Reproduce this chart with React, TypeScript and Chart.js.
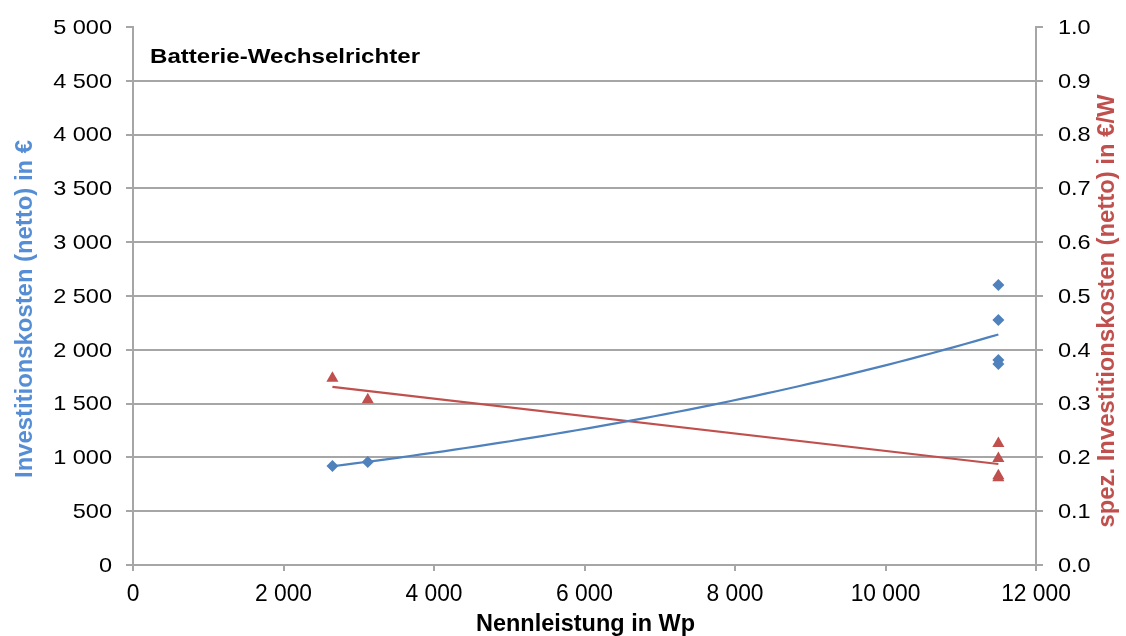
import React, { useEffect, useRef } from "react";
import { Chart, registerables } from "chart.js";

Chart.register(...registerables);

// Data
const nennleistungWp = [2650, 3120, 11500, 11500, 11500, 11500];
const investitionskostenEur = [920, 957, 2602, 2277, 1905, 1868];
const spezKostenEurProW = [0.347, 0.307, 0.226, 0.198, 0.166, 0.162];

const leftTicks = [0, 500, 1000, 1500, 2000, 2500, 3000, 3500, 4000, 4500, 5000];
const rightTicks = [0, 0.1, 0.2, 0.3, 0.4, 0.5, 0.6, 0.7, 0.8, 0.9, 1.0];
const xTicks = [0, 2000, 4000, 6000, 8000, 10000, 12000];

const chartTitle = "Batterie-Wechselrichter";
const xTitle = "Nennleistung in Wp";
const leftTitle = "Investitionskosten (netto) in €";
const rightTitle = "spez. Investitionskosten (netto) in €/W";

const BLUE = "#4F81BD";
const RED = "#C0504D";
const LEFT_TITLE_COLOR = "#558ED5";
const GRID = "#A6A6A6";
const SANS = "'Liberation Sans', Arial, sans-serif";

function fmtThousands(v: number) {
  return String(Math.round(v)).replace(/\B(?=(\d{3})+(?!\d))/g, " ");
}

// least-squares fit (Excel style trendlines)
function linearFit(xs: number[], ys: number[]) {
  const n = xs.length;
  const mx = xs.reduce((a, b) => a + b, 0) / n;
  const my = ys.reduce((a, b) => a + b, 0) / n;
  let sxy = 0, sxx = 0;
  for (let i = 0; i < n; i++) {
    sxy += (xs[i] - mx) * (ys[i] - my);
    sxx += (xs[i] - mx) * (xs[i] - mx);
  }
  const b = sxy / sxx;
  return { a: my - b * mx, b };
}

// draw text horizontally stretched/compressed by sx
function drawText(
  ctx: CanvasRenderingContext2D,
  text: string,
  x: number,
  y: number,
  font: string,
  color: string,
  sx: number,
  align: "left" | "right" | "center",
  baseline: CanvasTextBaseline,
  rot = 0
) {
  ctx.save();
  ctx.font = font;
  ctx.fillStyle = color;
  ctx.textBaseline = baseline;
  ctx.textAlign = align;
  ctx.translate(x, y);
  if (rot) ctx.rotate(rot);
  ctx.scale(sx, 1);
  ctx.fillText(text, 0, 0);
  ctx.restore();
}

function fitScale(ctx: CanvasRenderingContext2D, text: string, font: string, target: number) {
  ctx.save();
  ctx.font = font;
  const w = ctx.measureText(text).width;
  ctx.restore();
  return w > 0 ? target / w : 1;
}

export default function App() {
  const ref = useRef<HTMLCanvasElement>(null);

  useEffect(() => {
    if (!ref.current) return;
    const xmin = Math.min(...nennleistungWp);
    const xmax = Math.max(...nennleistungWp);

    const expFit = linearFit(nennleistungWp, investitionskostenEur.map((v) => Math.log(v)));
    const linFit = linearFit(nennleistungWp, spezKostenEurProW);

    const steps = 60;
    const expLine: { x: number; y: number }[] = [];
    for (let i = 0; i <= steps; i++) {
      const x = xmin + ((xmax - xmin) * i) / steps;
      expLine.push({ x, y: Math.exp(expFit.a + expFit.b * x) });
    }
    const linLine = [
      { x: xmin, y: linFit.a + linFit.b * xmin },
      { x: xmax, y: linFit.a + linFit.b * xmax },
    ];

    const textPlugin = {
      id: "texts",
      afterDraw(chart: any) {
        const { ctx, chartArea, scales } = chart;
        const sy = scales.y;
        const sy1 = scales.y1;
        const sxs = scales.x;

        // inner title
        const tFont = `bold 21px ${SANS}`;
        drawText(ctx, chartTitle, chartArea.left + 17, chartArea.top + 30, tFont, "#000",
          fitScale(ctx, chartTitle, tFont, 270), "left", "middle");

        // left ticks
        const yFont = `21px ${SANS}`;
        leftTicks.forEach((v) => {
          drawText(ctx, fmtThousands(v), chartArea.left - 21, sy.getPixelForValue(v) + 1, yFont, "#000", 1.12, "right", "middle");
        });
        // right ticks
        rightTicks.forEach((v) => {
          drawText(ctx, v.toFixed(1), chartArea.right + 22, sy1.getPixelForValue(v) + 1, yFont, "#000", 1.12, "left", "middle");
        });
        // x ticks
        const xFont = `24px ${SANS}`;
        xTicks.forEach((v) => {
          drawText(ctx, fmtThousands(v), sxs.getPixelForValue(v), chartArea.bottom + 29, xFont, "#000", 0.95, "center", "middle");
        });

        // axis titles
        const atFont = `bold 24px ${SANS}`;
        drawText(ctx, xTitle, (chartArea.left + chartArea.right) / 2 + 1, chartArea.bottom + 66, atFont, "#000",
          fitScale(ctx, xTitle, atFont, 219), "center", "alphabetic");
        drawText(ctx, leftTitle, 32, (chartArea.top + chartArea.bottom) / 2 + 13, atFont, LEFT_TITLE_COLOR,
          fitScale(ctx, leftTitle, atFont, 338), "center", "alphabetic", -Math.PI / 2);
        drawText(ctx, rightTitle, 1114, (chartArea.top + chartArea.bottom) / 2 + 15, atFont, RED,
          fitScale(ctx, rightTitle, atFont, 433), "center", "alphabetic", -Math.PI / 2);
      },
    };

    const chart = new Chart(ref.current, {
      type: "scatter",
      data: {
        datasets: [
          {
            label: "Trend Kosten",
            data: expLine,
            showLine: true,
            borderColor: BLUE,
            borderWidth: 2.2,
            pointRadius: 0,
            yAxisID: "y",
            order: 3,
          },
          {
            label: "Trend spez.",
            data: linLine,
            showLine: true,
            borderColor: RED,
            borderWidth: 2.2,
            pointRadius: 0,
            yAxisID: "y1",
            order: 4,
          },
          {
            label: "Investitionskosten",
            data: nennleistungWp.map((x, i) => ({ x, y: investitionskostenEur[i] })),
            pointStyle: "rectRot",
            pointRadius: 6,
            backgroundColor: BLUE,
            borderColor: BLUE,
            borderWidth: 0,
            yAxisID: "y",
            order: 1,
          },
          {
            label: "spez. Investitionskosten",
            data: nennleistungWp.map((x, i) => ({ x, y: spezKostenEurProW[i] })),
            pointStyle: "triangle",
            pointRadius: 7,
            backgroundColor: RED,
            borderColor: RED,
            borderWidth: 0,
            yAxisID: "y1",
            order: 2,
          },
        ],
      },
      options: {
        animation: false,
        responsive: false,
        maintainAspectRatio: false,
        layout: { padding: { top: 27, left: 0, right: 0, bottom: 0 } },
        plugins: {
          legend: { display: false },
          tooltip: { enabled: false },
        },
        scales: {
          x: {
            type: "linear",
            min: 0,
            max: 12000,
            afterBuildTicks: (s: any) => {
              s.ticks = xTicks.map((v) => ({ value: v }));
            },
            afterFit: (s: any) => {
              s.height = 71;
            },
            ticks: { display: false },
            grid: {
              drawOnChartArea: false,
              drawTicks: true,
              tickLength: 6,
              color: GRID,
              lineWidth: 2,
            },
            border: { display: true, color: GRID, width: 2 },
            title: { display: false },
          },
          y: {
            type: "linear",
            position: "left",
            min: 0,
            max: 5000,
            afterBuildTicks: (s: any) => {
              s.ticks = leftTicks.map((v) => ({ value: v }));
            },
            afterFit: (s: any) => {
              s.width = 133;
            },
            ticks: { display: false },
            grid: {
              drawTicks: true,
              tickLength: 7,
              lineWidth: 2,
              color: (c: any) => (c.tick && c.tick.value === 5000 ? "rgba(0,0,0,0)" : GRID),
              tickColor: GRID,
            },
            border: { display: true, color: GRID, width: 2 },
            title: { display: false },
          },
          y1: {
            type: "linear",
            position: "right",
            min: 0,
            max: 1,
            afterBuildTicks: (s: any) => {
              s.ticks = rightTicks.map((v) => ({ value: v }));
            },
            afterFit: (s: any) => {
              s.width = 90;
            },
            ticks: { display: false },
            grid: {
              drawOnChartArea: false,
              drawTicks: true,
              tickLength: 7,
              lineWidth: 2,
              color: GRID,
            },
            border: { display: true, color: GRID, width: 2 },
            title: { display: false },
          },
        },
      },
      plugins: [textPlugin],
    });

    return () => chart.destroy();
  }, []);

  return (
    <div style={{ position: "absolute", left: 0, top: 0, width: 1126, height: 636, background: "#fff" }}>
      <canvas ref={ref} width={1126} height={636} style={{ width: 1126, height: 636, display: "block" }} />
    </div>
  );
}
